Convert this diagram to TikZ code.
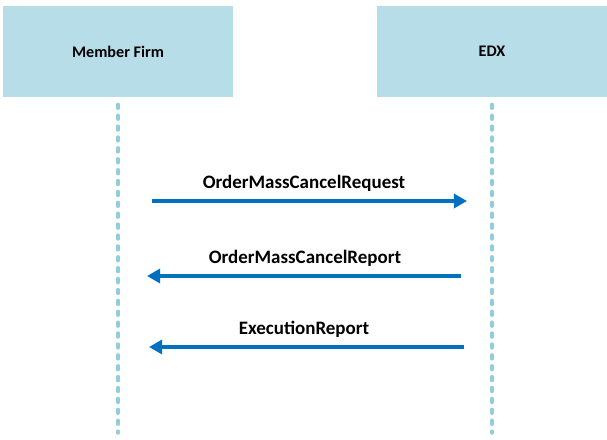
\documentclass[tikz,border=0pt]{standalone}
\usepackage{fontspec}
\setmainfont{Carlito}
\usetikzlibrary{arrows.meta}
\definecolor{boxblue}{HTML}{B7DDE8}
\definecolor{lifeblue}{HTML}{92CDDC}
\definecolor{msgblue}{HTML}{0070C0}
\tikzset{
  party/.style={draw=none,fill=boxblue,minimum width=4.6cm,minimum height=1.82cm,
    inner sep=0pt,font=\fontsize{9.2}{11}\selectfont\bfseries},
  lifeline/.style={draw=lifeblue,line width=2pt,line cap=round,dash pattern=on 2.2pt off 4pt},
  msg/.style={draw=msgblue,line width=1.9pt,-{Triangle[length=7.5pt,width=8pt]}},
  msglabel/.style={inner sep=0pt,font=\fontsize{10.8}{12}\selectfont\bfseries},
}
\newcommand{\msgarrow}[6]{
  \coordinate (#1s) at ( #2 , #4 );
  \coordinate (#1e) at ( #3 , #4 );
  \draw[msg] (#1s) -- (#1e);
  \node[msglabel] (#1l) at ( #5 , #4-18 ) {#6};}
\begin{document}
\begin{tikzpicture}[x=0.02cm,y=-0.02cm]
        \useasboundingbox (0,0) rectangle (607,439);
        % parties
        \node[party] (mf) at (118,51.5) {Member Firm};
        \node[party] (edx) at (492,51.5) {EDX};
        % lifelines
        \coordinate (mfend) at (118,433);
        \coordinate (edxend) at (492,433);
        \draw[lifeline] ([yshift=-4pt]mf.south) -- (mfend);
        \draw[lifeline] ([yshift=-4pt]edx.south) -- (edxend);
        % messages
        \msgarrow{req}{152}{467}{201}{304}{OrderMassCancelRequest}
        \msgarrow{rep}{461}{147}{276}{305}{OrderMassCancelReport}
        \msgarrow{exe}{464}{149}{347}{304}{ExecutionReport}
\end{tikzpicture}
\end{document}
